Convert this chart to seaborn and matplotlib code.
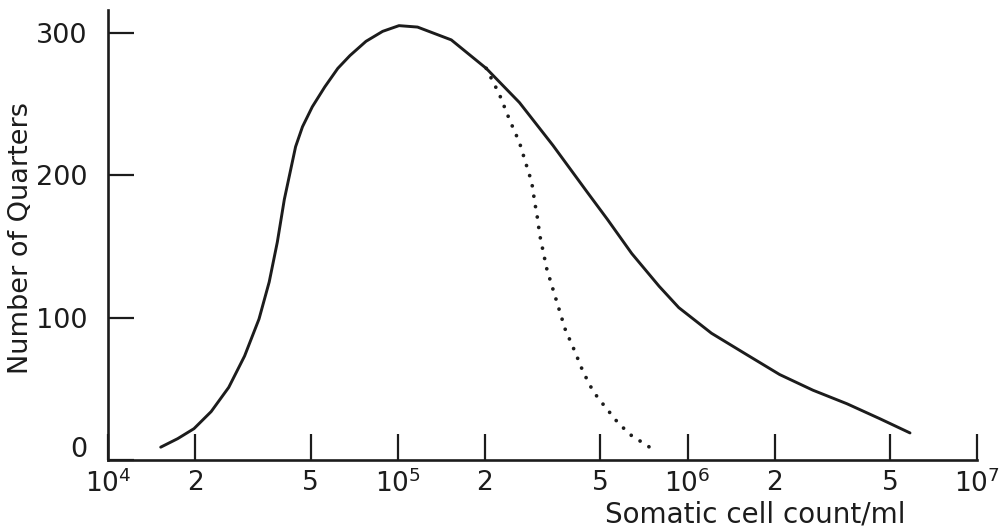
import matplotlib
matplotlib.use("Agg")
import matplotlib.pyplot as plt
import matplotlib.transforms as mtransforms
import pandas as pd
import seaborn as sns

# Distribution of somatic cell counts over all quarters (solid curve)
all_counts = [1.52e4, 1.74e4, 1.98e4, 2.27e4, 2.61e4, 2.96e4, 3.32e4, 3.60e4,
              3.84e4, 4.06e4, 4.44e4, 4.69e4, 5.07e4, 5.60e4, 6.21e4, 6.84e4,
              7.77e4, 8.87e4, 1.01e5, 1.17e5, 1.53e5, 2.02e5, 2.63e5, 3.43e5,
              4.51e5, 5.29e5, 6.42e5, 7.98e5, 9.33e5, 1.21e6, 1.60e6, 2.08e6,
              2.71e6, 3.55e6, 4.61e6, 5.86e6]
all_quarters = [9, 15, 22, 34, 51, 73, 99, 125,
                153, 183, 220, 234, 248, 262, 275, 284,
                294, 301, 305, 304, 295, 275, 251, 221,
                188, 169, 145, 122, 107, 89, 74, 60,
                49, 39.5, 29, 19]

# Branch for uninfected quarters (dotted curve)
clean_counts = [2.02e5, 2.24e5, 2.43e5, 2.63e5, 2.78e5, 2.90e5, 2.97e5, 3.04e5,
                3.09e5, 3.27e5, 3.54e5, 3.78e5, 4.09e5, 4.36e5, 4.73e5, 5.12e5,
                5.71e5, 6.32e5, 7.66e5]
clean_quarters = [275, 257, 239, 223, 207, 195, 181, 169,
                  158, 134, 111, 92, 76, 62, 48, 39,
                  27, 18, 7]

x_ticks = [1e4, 2e4, 5e4, 1e5, 2e5, 5e5, 1e6, 2e6, 5e6, 1e7]
x_tick_labels = [r"$10^{4}$", "2", "5", r"$10^{5}$", "2", "5",
                 r"$10^{6}$", "2", "5", r"$10^{7}$"]
y_ticks = [0, 100, 200, 300]
y_tick_labels = ["0", "100", "200", "300"]

ink = "#1c1c1c"

sns.set_style("ticks")
plt.rcParams["font.family"] = ["DejaVu Sans"]
plt.rcParams["mathtext.default"] = "regular"

fig = plt.figure(figsize=(10.02, 5.28), dpi=100)
ax = fig.add_axes([0.1078, 0.1288, 0.8675, 0.8523])

df_all = pd.DataFrame({"count": all_counts, "quarters": all_quarters})
df_clean = pd.DataFrame({"count": clean_counts, "quarters": clean_quarters})

sns.lineplot(data=df_all, x="count", y="quarters", ax=ax, color=ink,
             linewidth=2.1, sort=False)
sns.lineplot(data=df_clean, x="count", y="quarters", ax=ax, color=ink,
             linewidth=2.7, sort=False)
solid = ax.lines[0]
solid.set_solid_capstyle("round")
solid.set_solid_joinstyle("round")
dotted = ax.lines[-1]
dotted.set_linestyle((0, (0.01, 2.8)))
dotted.set_dash_capstyle("round")

ax.set_xscale("log")
ax.set_xlim(1e4, 1e7)
ax.set_ylim(0, 316)

ax.set_xticks(x_ticks)
ax.set_xticklabels(x_tick_labels)
ax.xaxis.set_minor_locator(matplotlib.ticker.NullLocator())
ax.set_yticks(y_ticks)
ax.set_yticklabels(y_tick_labels)

for side in ("top", "right"):
    ax.spines[side].set_visible(False)
for side in ("left", "bottom"):
    ax.spines[side].set_color(ink)
    ax.spines[side].set_linewidth(1.9)

ax.tick_params(axis="both", direction="in", length=19, width=1.6,
               color=ink, labelcolor=ink)
ax.tick_params(axis="x", labelsize=19, pad=7)
ax.tick_params(axis="y", labelsize=19.5, pad=15)

ax.set_xlabel("Somatic cell count/ml", fontsize=20, color=ink, va="center")
ax.xaxis.set_label_coords(0.745, -0.122)
ax.set_ylabel("Number of Quarters", fontsize=19.5, color=ink, va="center")
ax.yaxis.set_label_coords(-0.1, 0.493)

# lift the zero label above the baseline
fig.canvas.draw()
zero_label = ax.yaxis.get_major_ticks()[0].label1
zero_label.set_transform(zero_label.get_transform() +
                         mtransforms.ScaledTranslation(0, 0.13, fig.dpi_scale_trans))

fig.savefig("out.png", dpi=100, facecolor="white")
